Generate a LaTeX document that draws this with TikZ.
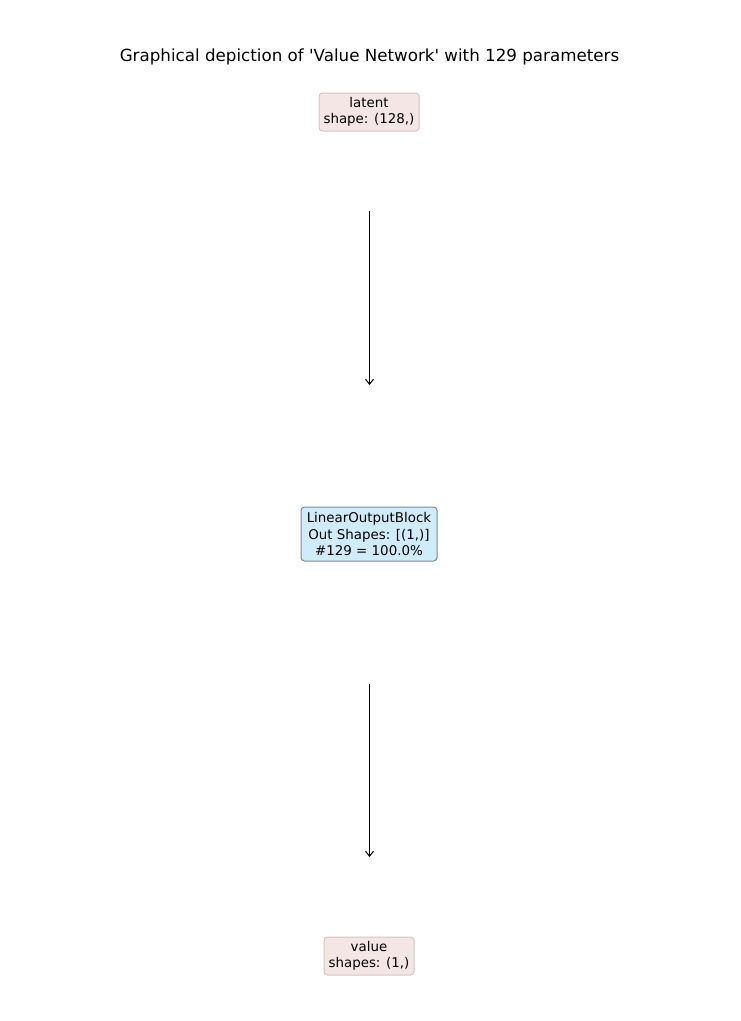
\documentclass[tikz,border=0pt]{standalone}
\usepackage{fontspec}
\setmainfont{DejaVu Sans}
\usetikzlibrary{arrows.meta}
\definecolor{iofill}{RGB}{245,230,230}
\definecolor{ioedge}{RGB}{212,196,196}
\definecolor{blkfill}{RGB}{208,236,251}
\definecolor{blkedge}{RGB}{128,140,148}
\tikzset{
  lbl/.style={align=center, inner sep=0pt, rounded corners=3.5pt, line width=1pt,
    font=\fontsize{13.4}{16.4}\selectfont},
  iobox/.style={lbl, fill=iofill, draw=ioedge},
  blkbox/.style={lbl, fill=blkfill, draw=blkedge},
  conn/.style={line width=1pt, -{Straight Barb[length=5pt,width=8pt]}}
}
\begin{document}
\begin{tikzpicture}[x=1pt,y=-1pt]
\useasboundingbox (0,0) rectangle (740,1021);
\node[font=\fontsize{16.7}{20}\selectfont] (title) at (369.5,57) {Graphical depiction of \textquotesingle Value Network\textquotesingle{} with 129 parameters};
\node[iobox, minimum width=100pt, minimum height=38pt] (latent) at (369,112) {latent\\shape: (128,)};
\node[blkbox, minimum width=136pt, minimum height=54pt] (lob) at (369,534) {LinearOutputBlock\\Out Shapes: [(1,)]\\\#129 = 100.0\%};
\node[iobox, minimum width=90pt, minimum height=38pt] (value) at (369,956) {value\\shapes: (1,)};
\coordinate (a1s) at (369.5,211);
\coordinate (a1e) at (369.5,385);
\coordinate (a2s) at (369.5,684);
\coordinate (a2e) at (369.5,857);
\draw[conn] (a1s) -- (a1e);
\draw[conn] (a2s) -- (a2e);
\end{tikzpicture}
\end{document}
